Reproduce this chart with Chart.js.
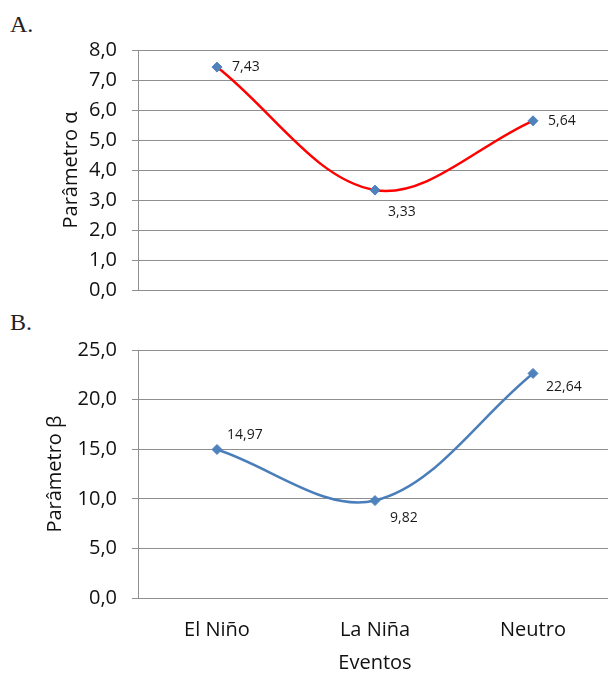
<!DOCTYPE html>
<html>
<head>
<meta charset="utf-8">
<script src="https://cdn.jsdelivr.net/npm/chart.js@4.4.0/dist/chart.umd.min.js"></script>
<style>
  html, body { margin:0; padding:0; background:#fff; overflow:hidden; width:608px; height:675px; }
  .panel { position:absolute; left:0; }
  .tag { position:absolute; left:10px; font-family:'Liberation Serif', 'Times New Roman', serif; font-size:24px; color:#222; line-height:1; }
</style>
</head>
<body>
<div class="tag" style="top:12px">A.</div>
<div class="tag" style="top:310px">B.</div>
<div class="panel" style="top:0"><canvas id="chartA" width="618" height="317"></canvas></div>
<div class="panel" style="top:300px"><canvas id="chartB" width="618" height="375"></canvas></div>
<script>
const EVENTS = ['El Niño', 'La Niña', 'Neutro'];
const ALPHA = [7.43, 3.33, 5.64];
const BETA = [14.97, 9.82, 22.64];

const GRID = '#8f8f8f';
const MARKER = '#4F81BD';
const FONT = "'Open Sans', 'Noto Sans', sans-serif";

function fmt(v, d){ return Number(v).toFixed(d).replace('.', ','); }

// where each value label sits relative to its point
const labelPlugin = {
  id: 'valueLabels',
  afterDatasetsDraw(chart, args, opts){
    const ctx = chart.ctx;
    const meta = chart.getDatasetMeta(0);
    const vals = chart.data.datasets[0].data;
    ctx.save();
    ctx.font = `14px ${FONT}`;
    ctx.fillStyle = '#1a1a1a';
    ctx.textAlign = 'left';
    ctx.textBaseline = 'middle';
    meta.data.forEach((pt, i) => {
      const [dx, dy] = opts.offsets[i];
      ctx.fillText(fmt(vals[i], 2), pt.x + dx, pt.y + dy);
    });
    ctx.restore();
  }
};

function makeChart(id, values, color, yMax, step, yTitle, titlePad, offsets, showX){
  return new Chart(document.getElementById(id), {
    type: 'line',
    data: {
      labels: EVENTS,
      datasets: [{
        data: values,
        borderColor: color,
        borderWidth: 2.5,
        tension: 0.35,
        pointStyle: 'rectRot',
        pointRadius: 5,
        pointHoverRadius: 5,
        pointBackgroundColor: MARKER,
        pointBorderColor: MARKER,
        pointBorderWidth: 1,
        fill: false,
      }]
    },
    options: {
      responsive: false,
      animation: false,
      layout: { padding: { top: 50, bottom: showX ? 0 : 10, left: 0, right: 0 } },
      plugins: {
        legend: { display: false },
        tooltip: { enabled: false },
        valueLabels: { offsets }
      },
      scales: {
        x: {
          display: showX,
          offset: true,
          grid: { display: false, drawTicks: false },
          border: { display: false },
          ticks: { color: '#111', font: { family: FONT, size: 20 }, padding: 20 },
          title: { display: showX, text: 'Eventos', color: '#111', font: { family: FONT, size: 20 }, padding: { top: 0, bottom: 0 } },
          afterFit: s => { s.height = showX ? 77 : 0; }
        },
        y: {
          min: 0, max: yMax,
          ticks: { stepSize: step, autoSkip: false, color: '#111', font: { family: FONT, size: 20 }, padding: 15, callback: v => fmt(v, 1) },
          grid: { color: GRID, lineWidth: 1, tickLength: 6, drawTicks: true },
          border: { display: true, color: GRID, width: 1 },
          title: { display: true, text: yTitle, color: '#111', font: { family: FONT, size: 20 }, padding: { top: titlePad, bottom: 0 } },
          afterFit: s => { s.width = 138; }
        }
      }
    },
    plugins: [labelPlugin]
  });
}

makeChart('chartA', ALPHA, '#FF0000', 8, 1, 'Parâmetro α', 59, [[15, 0], [13, 22], [15, 0]], false);
makeChart('chartB', BETA, '#4A7EBB', 25, 5, 'Parâmetro β', 43, [[10, -14], [15, 17], [13, 14]], true);
</script>
</body>
</html>
